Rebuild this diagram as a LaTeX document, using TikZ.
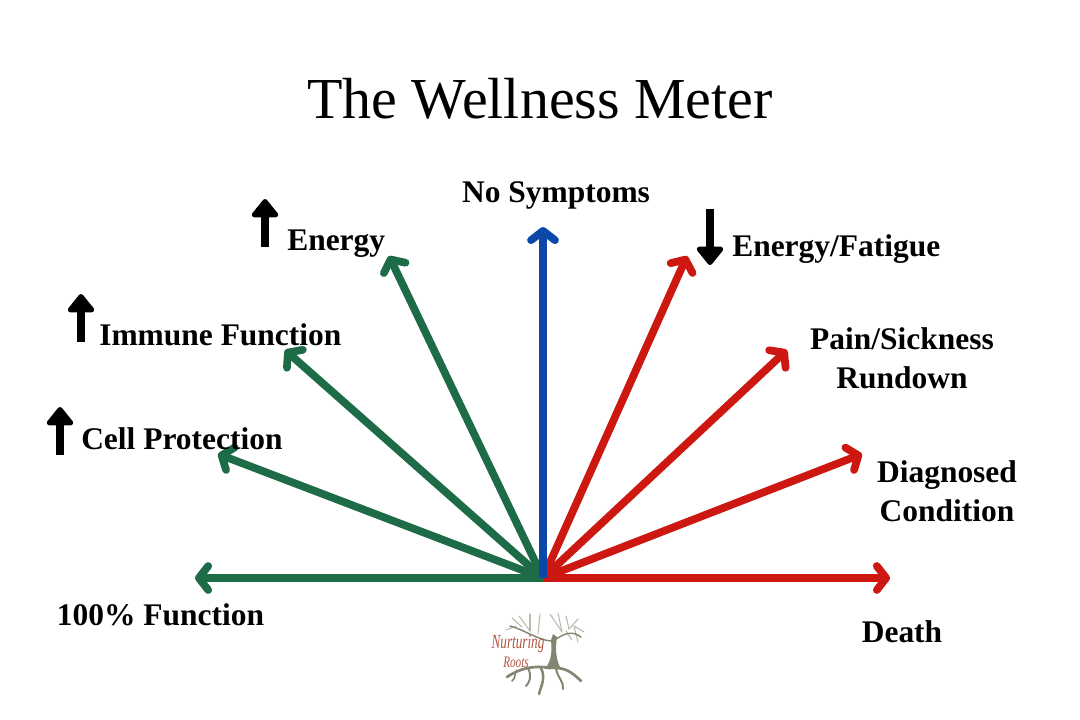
\documentclass[tikz,border=0pt]{standalone}
\usepackage{fontspec}
\setmainfont{Liberation Serif}
\usetikzlibrary{arrows.meta}
\definecolor{wellgreen}{RGB}{30,107,72}
\definecolor{wellred}{RGB}{204,24,16}
\definecolor{wellblue}{RGB}{12,71,170}
\definecolor{treegray}{RGB}{132,134,114}
\definecolor{twiggray}{RGB}{185,186,172}
\definecolor{logored}{RGB}{176,84,60}
\tikzset{
  meter/.style={line width=5.8pt, -{Straight Barb[round, length=7pt, width=18pt, line width=5.8pt]}},
  mark up/.style={line width=6pt, -{Triangle[round, length=15pt, width=23pt]}},
  label/.style={font=\fontsize{23.6}{29}\selectfont\bfseries, inner sep=0pt, align=center},
  branch/.style={treegray, line cap=round, line join=round},
  twig/.style={twiggray, line width=.8pt, line cap=round},
}
\begin{document}
\begin{tikzpicture}[x=0.75pt, y=-0.75pt]
  \useasboundingbox (0,0) rectangle (1080,719);
  % title
  \node[font=\fontsize{43.5}{50}\selectfont, inner sep=0pt] (title) at (540,99) {The Wellness Meter};
  % meter
  \coordinate (hub) at (543,578);
  \coordinate (full) at (195,578);
  \coordinate (cell) at (218,454);
  \coordinate (immune) at (285,350);
  \coordinate (energy) at (389,256);
  \coordinate (none) at (543,227);
  \coordinate (fatigue) at (687,256);
  \coordinate (pain) at (787,350);
  \coordinate (diag) at (862,454);
  \coordinate (death) at (890,578);
  \foreach \e in {full,cell,immune,energy} \draw[meter, wellgreen] (hub) -- (\e);
  \foreach \e in {fatigue,pain,diag,death} \draw[meter, wellred] (hub) -- (\e);
  \draw[meter, wellblue] (hub) -- (none);
  % labels
  \node[label] (lfull) at (160.5,615) {100\% Function};
  \node[label, anchor=west] (lcell) at (81,439) {Cell Protection};
  \node[label, anchor=west] (limmune) at (99,335) {Immune Function};
  \node[label, anchor=west] (lenergy) at (287,244) {Energy};
  \node[label] (lnone) at (556,195) {No Symptoms};
  \node[label, anchor=west] (lfatigue) at (732,249) {Energy/Fatigue};
  \node[label] (lpain) at (902,358) {Pain/Sickness\\Rundown};
  \node[label] (ldiag) at (947,491) {Diagnosed\\Condition};
  \node[label] (ldeath) at (902,632) {Death};
  % black arrows
  \draw[mark up] (265,247) -- (265,199);
  \draw[mark up] (81,342) -- (81,294);
  \draw[mark up] (60,455) -- (60,407);
  \draw[mark up] (710,209) -- (710,265);
  % logo twigs
  \foreach \a/\b/\c/\d in {530/631/519/616, 530/631/530/614, 522/627/512/618, 516/626/506/630, 538/634/540/614, 562/632/550/614, 562/632/558/613, 569/629/566/616, 569/629/578/619, 574/626/584/632, 574/626/578/642, 566/631/572/640}
    \draw[twig] (\a,\b) -- (\c,\d);
  % logo tree
  \fill[treegray] (545,669) .. controls (552,660) and (552,650) .. (551,640) -- (553,634) -- (557,637) .. controls (555,650) and (556,660) .. (561,669) -- cycle;
  \draw[branch, line width=1.1pt] (551,641) .. controls (538,640) and (525,630) .. (510,626);
  \draw[branch, line width=1.1pt] (556,639) .. controls (564,634) and (572,630) .. (581,637);
  \draw[branch, line width=2pt] (550,668) .. controls (535,665) and (520,668) .. (507,677);
  \draw[branch, line width=2pt] (556,668) .. controls (565,668) and (572,672) .. (581,681);
  \draw[branch, line width=1.5pt] (528,668) .. controls (532,676) and (530,682) .. (526,686);
  \draw[branch, line width=1.9pt] (541,668) .. controls (546,678) and (541,686) .. (539,694);
  \draw[branch, line width=1.5pt] (556,669) .. controls (558,678) and (564,682) .. (563,689);
  \draw[branch, line width=1.2pt] (517,670) .. controls (514,674) and (516,678) .. (512,681);
  % logo text
  \node[logored, font=\itshape\fontsize{15}{16}\selectfont, inner sep=0pt, xscale=.66] (brand) at (518,644) {Nurturing};
  \node[logored, font=\itshape\fontsize{12}{13}\selectfont, inner sep=0pt, xscale=.7] (brandb) at (516,662) {Roots};
\end{tikzpicture}
\end{document}
